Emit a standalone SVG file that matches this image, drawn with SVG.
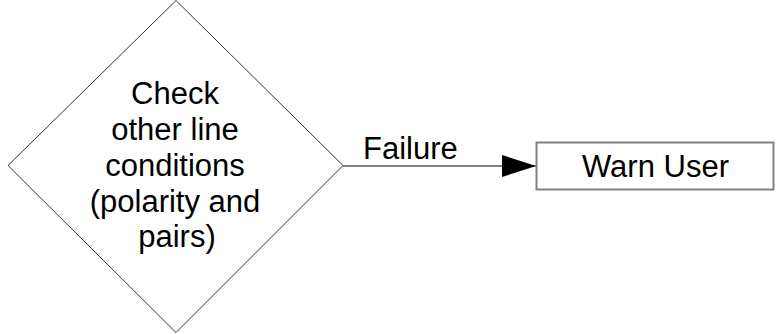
<svg xmlns="http://www.w3.org/2000/svg" width="776" height="334" viewBox="0 0 776 334">
<style>
text{font-family:"Liberation Sans",Arial,sans-serif;font-size:31px;fill:#000}
.c{text-anchor:middle}
</style>
<defs>
<marker id="arr" markerUnits="userSpaceOnUse" markerWidth="36" markerHeight="24" refX="34" refY="11" orient="auto">
<path d="M0,0 L34,11 L0,22 Z" fill="#000"/>
</marker>
</defs>
<rect width="776" height="334" fill="#fff"/>
<g id="decision">
<path d="M176,0.5 L343,165.5 L176,332.5 L8,165.5 Z" fill="#fff" stroke="#333" stroke-width="1"/>
<text class="c" x="175" y="104">Check</text>
<text class="c" x="175" y="140">other line</text>
<text class="c" x="175" y="176">conditions</text>
<text class="c" x="175" y="212">(polarity and</text>
<text class="c" x="177" y="247">pairs)</text>
</g>
<g id="connectors">
<line x1="343" y1="166" x2="536" y2="166" stroke="#808080" stroke-width="2" marker-end="url(#arr)"/>
<text x="363" y="159">Failure</text>
</g>
<g id="warn">
<rect x="536.5" y="142.5" width="237" height="47" fill="#fff" stroke="#808080" stroke-width="2"/>
<text class="c" x="655.5" y="177">Warn User</text>
</g>
</svg>
